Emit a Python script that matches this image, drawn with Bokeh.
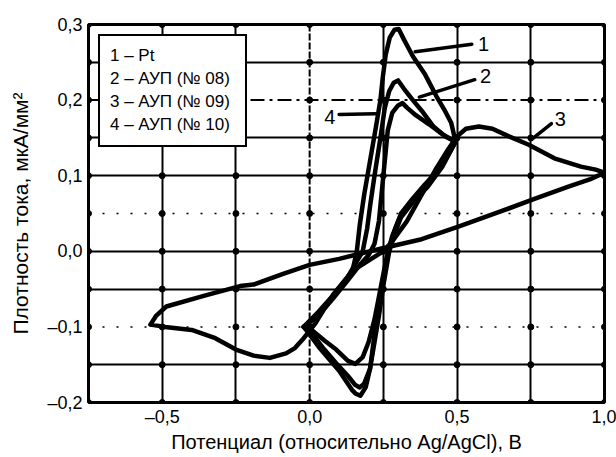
import numpy as np
from bokeh.plotting import figure
from bokeh.models import (FixedTicker, CustomJSTickFormatter, Span,
                          Legend, LegendItem, Range1d)
from bokeh.core.properties import value
from bokeh.embed import file_html
from bokeh.resources import INLINE

FONT = "Liberation Sans"

# ---------------- data ----------------
# 1 - Pt
pt_x = [-0.02, 0.03, 0.08, 0.12, 0.145, 0.16, 0.17, 0.185, 0.205, 0.225, 0.24, 0.248,
        0.258, 0.272, 0.288, 0.302, 0.32, 0.35, 0.39, 0.43, 0.46, 0.48, 0.495,
        0.47, 0.43, 0.39, 0.35, 0.31, 0.29, 0.27, 0.25, 0.235, 0.22, 0.205, 0.19,
        0.172, 0.155, 0.145, 0.1, 0.06, 0.034, 0.0, -0.02]
pt_y = [-0.10, -0.08, -0.058, -0.04, -0.026, 0.0, 0.035, 0.075, 0.12, 0.165, 0.2, 0.23,
        0.26, 0.283, 0.293, 0.294, 0.28, 0.258, 0.235, 0.205, 0.185, 0.17, 0.145,
        0.128, 0.105, 0.088, 0.07, 0.05, 0.03, 0.005, -0.04, -0.08, -0.11, -0.155, -0.18,
        -0.191, -0.188, -0.184, -0.158, -0.14, -0.128, -0.11, -0.10]

# 2 - АУП (№ 08)
a08_x = [-0.02, 0.03, 0.08, 0.12, 0.15, 0.18, 0.195, 0.205, 0.22, 0.24, 0.255, 0.27,
         0.285, 0.3, 0.32, 0.35, 0.38, 0.42, 0.46, 0.495,
         0.45, 0.4, 0.35, 0.31, 0.29, 0.27, 0.25, 0.235, 0.22, 0.205, 0.185, 0.17,
         0.155, 0.13, 0.09, 0.05, 0.01, -0.02]
a08_y = [-0.10, -0.082, -0.06, -0.04, -0.02, 0.0, 0.03, 0.06, 0.1, 0.15, 0.19, 0.212,
         0.223, 0.226, 0.215, 0.2, 0.186, 0.165, 0.152, 0.145,
         0.112, 0.085, 0.065, 0.045, 0.025, 0.0, -0.045, -0.085, -0.12, -0.155, -0.175, -0.18,
         -0.177, -0.165, -0.148, -0.13, -0.11, -0.10]

# 3 - АУП (№ 09)
a09_x = [-0.54, -0.49, -0.4, -0.32, -0.25, -0.19, -0.135, -0.08, -0.05, -0.02, 0.02,
         0.08, 0.145, 0.213, 0.25, 0.28, 0.33, 0.38, 0.43, 0.47, 0.5, 0.53, 0.574,
         0.62, 0.676, 0.743, 0.83, 0.92, 0.97, 1.0,
         0.95, 0.88, 0.76, 0.65, 0.507, 0.38, 0.247, 0.1, 0.0, -0.09, -0.19, -0.236,
         -0.35, -0.486, -0.52, -0.54]
a09_y = [-0.097, -0.1, -0.104, -0.115, -0.13, -0.138, -0.141, -0.135, -0.128, -0.115, -0.095,
         -0.057, -0.026, -0.009, 0.0, 0.013, 0.04, 0.075, 0.11, 0.135, 0.152, 0.162, 0.165,
         0.162, 0.152, 0.141, 0.123, 0.112, 0.108, 0.104,
         0.095, 0.086, 0.069, 0.053, 0.033, 0.016, 0.004, -0.01, -0.018, -0.03, -0.044, -0.046,
         -0.058, -0.073, -0.085, -0.097]

# 4 - АУП (№ 10)
a10_x = [-0.02, 0.03, 0.08, 0.13, 0.17, 0.2, 0.22, 0.235, 0.245, 0.255, 0.265, 0.28,
         0.3, 0.315, 0.33, 0.36, 0.405, 0.45, 0.495,
         0.45, 0.4, 0.35, 0.31, 0.28, 0.26, 0.24, 0.22, 0.2, 0.18, 0.155, 0.13, 0.09,
         0.05, 0.01, -0.02]
a10_y = [-0.10, -0.085, -0.062, -0.038, -0.018, -0.005, 0.01, 0.04, 0.08, 0.12, 0.16, 0.183,
         0.193, 0.196, 0.19, 0.18, 0.168, 0.155, 0.145,
         0.118, 0.09, 0.068, 0.048, 0.02, -0.01, -0.05, -0.09, -0.12, -0.14, -0.149, -0.145, -0.13,
         -0.118, -0.105, -0.10]

legend_labels = ["1 – Pt", "2 – АУП (№ 08)", "3 – АУП (№ 09)", "4 – АУП (№ 10)"]
curve_numbers = ["1", "2", "3", "4"]

x_ticks = [-0.5, 0.0, 0.5, 1.0]
y_ticks = [-0.2, -0.1, 0.0, 0.1, 0.2, 0.3]
x_grid_solid = [-0.5, -0.25, 0.25, 0.5, 0.75]
x_grid_dashed = [0.0]
y_grid_solid = [-0.15, -0.05, 0.0, 0.1, 0.15, 0.25]
y_grid_dashdot = [0.2]
y_grid_dotted = [0.05, -0.1]
x_nodes = [-0.75, -0.5, -0.25, 0.0, 0.25, 0.5, 0.75, 1.0]
y_nodes = [-0.2, -0.15, -0.1, -0.05, 0.0, 0.05, 0.1, 0.15, 0.2, 0.25, 0.3]

# curve-number callouts: leader start (on curve), leader end, text position
callout_x0 = [0.358, 0.372, 0.753, 0.223]
callout_y0 = [0.264, 0.204, 0.148, 0.182]
callout_x1 = [0.55, 0.56, 0.82, 0.10]
callout_y1 = [0.274, 0.227, 0.169, 0.181]
callout_tx = [0.59, 0.597, 0.85, 0.068]
callout_ty = [0.274, 0.232, 0.175, 0.178]

# ---------------- figure ----------------
p = figure(width=616, height=457, output_backend="svg", toolbar_location=None,
           x_range=Range1d(-0.75, 1.0), y_range=Range1d(-0.2, 0.3),
           min_border_left=88, min_border_right=12, min_border_top=24,
           min_border_bottom=55)
p.background_fill_color = "white"
p.border_fill_color = "white"
p.outline_line_color = "black"
p.outline_line_width = 3
p.outline_line_alpha = 1.0

fmt = CustomJSTickFormatter(code="""
    return tick.toFixed(1).replace('.', ',').replace('-', '\u2013');
""")
p.xaxis.ticker = FixedTicker(ticks=x_ticks)
p.yaxis.ticker = FixedTicker(ticks=y_ticks)
for ax in (p.xaxis[0], p.yaxis[0]):
    ax.formatter = fmt
    ax.major_tick_out = 0
    ax.major_tick_in = 0
    ax.minor_tick_out = 0
    ax.minor_tick_in = 0
    ax.axis_line_color = None
    ax.major_label_text_font = FONT
    ax.major_label_text_font_size = "18px"
    ax.major_label_text_color = "black"
    ax.axis_label_text_font = FONT
    ax.axis_label_text_font_style = "normal"
    ax.axis_label_text_color = "black"
p.xaxis.major_label_standoff = 4
p.yaxis.major_label_standoff = 6
p.yaxis.axis_label = "Плотность тока, мкА/мм²"
p.yaxis.axis_label_text_font_size = "21px"
p.yaxis.axis_label_standoff = 12
p.xaxis.axis_label = "Потенциал (относительно Ag/AgCl), В"
p.xaxis.axis_label_text_font_size = "20px"
p.xaxis.axis_label_standoff = 1

p.xgrid.ticker = FixedTicker(ticks=x_grid_solid)
p.ygrid.ticker = FixedTicker(ticks=y_grid_solid)
for g in (p.xgrid[0], p.ygrid[0]):
    g.grid_line_color = "black"
    g.grid_line_width = 2
    g.grid_line_alpha = 1.0

for xv in x_grid_dashed:
    p.add_layout(Span(location=xv, dimension="height", line_color="black",
                      line_width=2, line_dash="7 2"))
for yv in y_grid_dashdot:
    p.add_layout(Span(location=yv, dimension="width", line_color="black",
                      line_width=2, line_dash="14 5 3 5"))
for yv in y_grid_dotted:
    p.add_layout(Span(location=yv, dimension="width", line_color="black",
                      line_width=1.5, line_dash="2 12"))

gx, gy = np.meshgrid(x_nodes, y_nodes)
p.scatter(gx.ravel(), gy.ravel(), size=6, color="black", marker="circle")

renderers = []
for xs, ys in ((pt_x, pt_y), (a08_x, a08_y), (a09_x, a09_y), (a10_x, a10_y)):
    r = p.line(xs, ys, line_color="black", line_width=4.5, line_join="round",
               line_cap="round")
    renderers.append(r)

p.segment(callout_x0, callout_y0, callout_x1, callout_y1, line_color="black",
          line_width=3.5, line_cap="round")
p.text(callout_tx, callout_ty, text=curve_numbers, text_font=value(FONT),
       text_font_size="20px", text_align="center", text_baseline="middle",
       text_color="black")

legend = Legend(items=[LegendItem(label=l, renderers=[r])
                       for l, r in zip(legend_labels, renderers)],
                location="top_left", margin=10, padding=10, spacing=3,
                glyph_width=0, glyph_height=20, label_height=20,
                label_standoff=0, label_width=125,
                label_text_font=FONT, label_text_font_size="17px",
                label_text_color="black",
                border_line_color="black", border_line_width=2,
                border_line_alpha=1.0,
                background_fill_color="white", background_fill_alpha=1.0)
p.add_layout(legend)

open("out.html", "w").write(file_html(p, INLINE))
